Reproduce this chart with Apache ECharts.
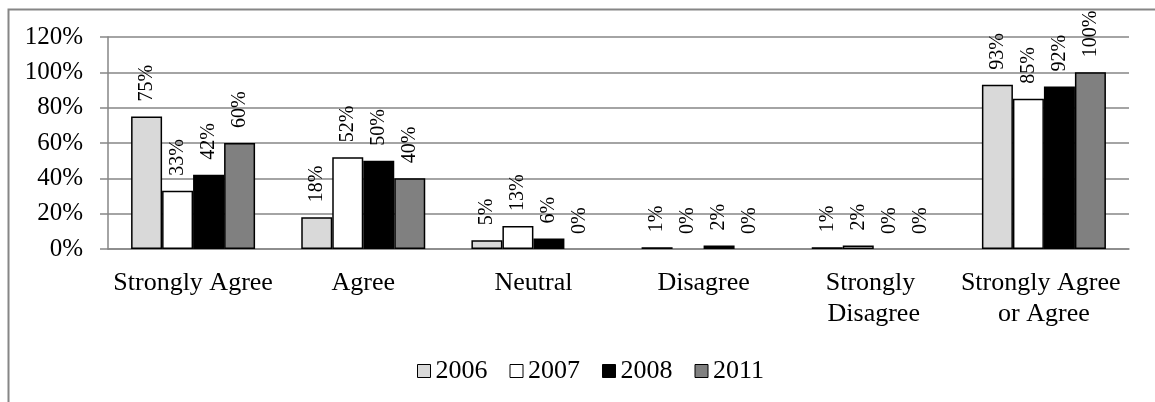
<!DOCTYPE html>
<html>
<head>
<meta charset="utf-8">
<script src="https://cdn.jsdelivr.net/npm/echarts@6/dist/echarts.min.js"></script>
<style>
html,body{margin:0;padding:0;background:#fff;}
#chart{width:1155px;height:402px;}
</style>
</head>
<body>
<div id="chart"></div>
<script>
const categories = ['Strongly Agree', 'Agree', 'Neutral', 'Disagree', 'Strongly Disagree', 'Strongly Agree or Agree'];
const yTicks = [0, 20, 40, 60, 80, 100, 120];
const years = ['2006', '2007', '2008', '2011'];
const v2006 = [75, 18, 5, 1, 1, 93];
const v2007 = [33, 52, 13, 0, 2, 85];
const v2008 = [42, 50, 6, 2, 0, 92];
const v2011 = [60, 40, 0, 0, 0, 100];
const values = [v2006, v2007, v2008, v2011];
const colors = ['#d9d9d9', '#ffffff', '#000000', '#808080'];

const font = 'Liberation Serif';
const chart = echarts.init(document.getElementById('chart'));
chart.setOption({
  animation: false,
  backgroundColor: '#fff',
  textStyle: { fontFamily: font, color: '#000' },
  graphic: [{
    type: 'rect', left: 6, top: 7,
    shape: { x: 0, y: 0, width: 1300, height: 600 },
    style: { fill: 'none', stroke: '#868686', lineWidth: 2 },
    silent: true
  }],
  grid: { left: 108, right: 26, top: 37, bottom: 153 },
  legend: {
    left: 412, top: 353,
    icon: 'rect', itemWidth: 13, itemHeight: 13, itemGap: 22,
    textStyle: { fontFamily: font, fontSize: 26, color: '#000', padding: [0, 0, 0, 0] },
    itemStyle: { borderColor: '#000', borderWidth: 1 },
    data: years
  },
  xAxis: {
    type: 'category',
    data: categories,
    axisLine: { lineStyle: { color: '#868686', width: 1.5 } },
    axisTick: { length: 7, lineStyle: { color: '#868686', width: 1.5 } },
    axisLabel: {
      fontFamily: font, fontSize: 26, color: '#000', margin: 19, lineHeight: 31,
      interval: 0, width: 168, overflow: 'break'
    }
  },
  yAxis: {
    type: 'value', min: yTicks[0], max: yTicks[yTicks.length - 1], interval: 20,
    axisLine: { show: true, lineStyle: { color: '#868686', width: 1.5 } },
    axisTick: { show: true, inside: false, length: 8, lineStyle: { color: '#868686', width: 1.5 } },
    splitLine: { lineStyle: { color: '#868686', width: 1.5 } },
    axisLabel: { fontFamily: font, fontSize: 25, color: '#000', margin: 25, formatter: '{value}%' }
  },
  series: years.map((y, i) => ({
    name: y,
    type: 'bar',
    data: values[i].map(v => v === 0 ? { value: v, itemStyle: { borderWidth: 0 } } : v),
    barWidth: 31,
    barGap: '0%',
    itemStyle: { color: colors[i], borderColor: '#000', borderWidth: 1.5 },
    label: {
      show: true, position: 'top', rotate: 90, distance: 15,
      align: 'left', verticalAlign: 'middle',
      fontFamily: font, fontSize: 20, color: '#000',
      formatter: '{c}%'
    }
  }))
});
</script>
</body>
</html>
